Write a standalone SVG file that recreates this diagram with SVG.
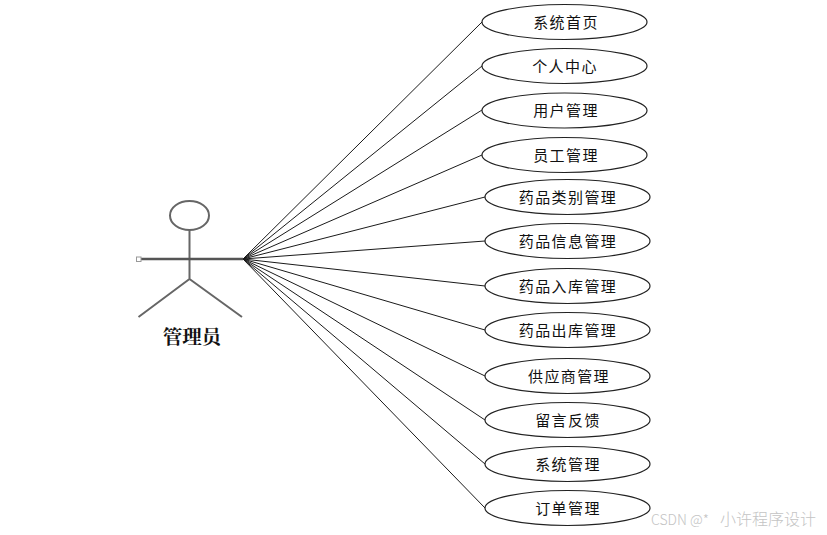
<svg xmlns="http://www.w3.org/2000/svg" width="827" height="535" viewBox="0 0 827 535">
<style>
.e{fill:#fff;stroke:#222;stroke-width:1.2}
.c{stroke:#1a1a1a;stroke-width:1;fill:none}
.a{stroke:#666;stroke-width:2;fill:none}
.t{font-family:"Noto Sans CJK SC","Liberation Sans",sans-serif;font-size:15px;letter-spacing:1.4px;text-anchor:middle;fill:#111}
</style>
<rect width="827" height="535" fill="#fff"/>
<g id="connectors">
<path class="c" d="M243 259L482 22M243 259L482 66M243 259L482 110M243 259L482 155M243 259L485 197M243 259L485 241M243 259L485 286M243 259L485 330M243 259L485 376M243 259L485 420M243 259L485 464M243 259L485 508"/>
</g>
<g id="actor">
<ellipse cx="189.500" cy="215.500" rx="19.500" ry="14.500" class="a"/>
<path class="a" d="M189.500 230V279M189.500 279L138.500 317M189.500 279L242 317"/>
<path d="M141 259H243" stroke="#555" stroke-width="2.500" fill="none"/>
<rect x="136.500" y="257" width="4.500" height="4.500" fill="#fff" stroke="#999" stroke-width="1"/>
<text x="192" y="344" style="font-family:'Noto Serif CJK SC','Noto Sans CJK SC',serif;font-size:19.500px;font-weight:700;text-anchor:middle;fill:#111">管理员</text>
</g>
<g id="n1"><ellipse class="e" cx="564.500" cy="22" rx="82.500" ry="17.500"/><text class="t" x="566" y="28">系统首页</text></g>
<g id="n2"><ellipse class="e" cx="564.500" cy="66" rx="82.500" ry="17.500"/><text class="t" x="565" y="72">个人中心</text></g>
<g id="n3"><ellipse class="e" cx="564.500" cy="110.500" rx="82.500" ry="17.500"/><text class="t" x="566" y="116">用户管理</text></g>
<g id="n4"><ellipse class="e" cx="564.500" cy="155" rx="82.500" ry="17.500"/><text class="t" x="566" y="161">员工管理</text></g>
<g id="n5"><ellipse class="e" cx="567.500" cy="197" rx="82.500" ry="17.500"/><text class="t" x="568" y="203">药品类别管理</text></g>
<g id="n6"><ellipse class="e" cx="567.500" cy="241" rx="82.500" ry="17.500"/><text class="t" x="568" y="247">药品信息管理</text></g>
<g id="n7"><ellipse class="e" cx="567.500" cy="286" rx="82.500" ry="17.500"/><text class="t" x="568" y="292">药品入库管理</text></g>
<g id="n8"><ellipse class="e" cx="567.500" cy="330" rx="82.500" ry="17.500"/><text class="t" x="568" y="336">药品出库管理</text></g>
<g id="n9"><ellipse class="e" cx="567.500" cy="376" rx="82.500" ry="17.500"/><text class="t" x="569" y="382">供应商管理</text></g>
<g id="n10"><ellipse class="e" cx="567.500" cy="420" rx="82.500" ry="17.500"/><text class="t" x="568" y="426">留言反馈</text></g>
<g id="n11"><ellipse class="e" cx="567.500" cy="464" rx="82.500" ry="17.500"/><text class="t" x="568" y="470">系统管理</text></g>
<g id="n12"><ellipse class="e" cx="567.500" cy="508" rx="82.500" ry="17.500"/><text class="t" x="568" y="514">订单管理</text></g>
<text x="651" y="525" style="font-family:'Noto Sans CJK SC','Liberation Sans',sans-serif;font-size:14px;fill:#c4c4c4;font-weight:300">CSDN @*<tspan x="720" font-size="16" letter-spacing="0">小许程序设计</tspan></text>
</svg>
